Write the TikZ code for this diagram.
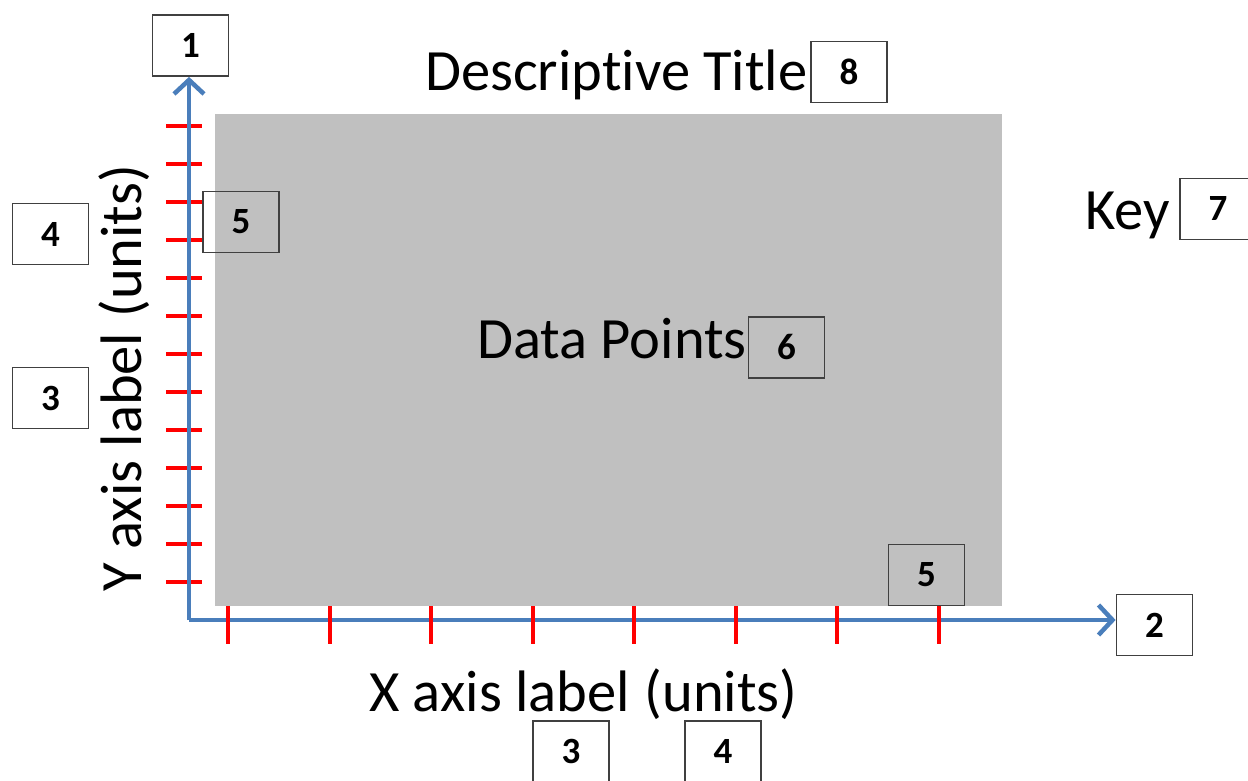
\documentclass[tikz,border=0pt]{standalone}
\usepackage{fontspec}
\setmainfont{Carlito}[Ligatures=NoCommon]
\usetikzlibrary{arrows.meta}
\definecolor{axisblue}{RGB}{74,126,187}
\definecolor{plotgray}{RGB}{192,192,192}
\definecolor{boxline}{RGB}{64,64,64}
\tikzset{
  numbox/.style={draw=boxline, line width=1.8pt, minimum width=76pt, minimum height=61pt, inner sep=0pt,
    font=\fontsize{37}{39}\selectfont\bfseries},
  bigtext/.style={inner sep=0pt, font=\fontsize{58.5}{61}\selectfont},
  axisline/.style={draw=axisblue, line width=4.5pt, line join=round,
    -{Straight Barb[length=14pt,width=30pt,line width=4.5pt]}},
  tickmark/.style={draw=red, line width=4pt}
}
\begin{document}
\begin{tikzpicture}[x=1pt,y=-1pt]
\useasboundingbox (0,0) rectangle (1248,781);
\clip (0,0) rectangle (1248,781);
\fill[white] (0,0) rectangle (1248,781);
% plot area
\fill[plotgray] (215,114) rectangle (1002,606);
% boxes
\node[numbox] (b1) at (190.5,45.5) {1};
\node[numbox] (b2) at (1154.5,625) {2};
\node[numbox] (b3l) at (50.5,398) {3};
\node[numbox] (b4l) at (50.5,234) {4};
\node[numbox] (b3b) at (571,751.5) {3};
\node[numbox] (b4b) at (723,751.5) {4};
\node[numbox] (b5a) at (241,222) {5};
\node[numbox] (b5b) at (926.5,575) {5};
\node[numbox] (b6) at (786.5,347.5) {6};
\node[numbox] (b7) at (1218,209) {7};
\node[numbox] (b8) at (849,72) {8};
% texts
\node[bigtext, anchor=base west] (title) at (425,91) {Descriptive Title};
\node[bigtext, anchor=base east] (key) at (1170,229) {Key};
\node[bigtext, anchor=base west] (data) at (477,358) {Data Points};
\node[bigtext, anchor=base] (xlab) at (583.5,711) {X axis label\hspace{15pt}(units)};
\node[bigtext, anchor=base, rotate=90] (ylab) at (141,378) {Y axis label\hspace{15pt}(units)};
% axes
\coordinate (origin) at (189,620);
\foreach \yy in {126,164,...,582} \draw[tickmark] (166,\yy) -- (202,\yy);
\draw[axisline] (origin) -- (origin -| b2.west);
\draw[axisline] (origin) -- (origin |- b1.south);
\foreach \xx in {228,329.5,431,532.5,634,735.5,837,938.5} \draw[tickmark] (\xx,606) -- (\xx,644);
\end{tikzpicture}
\end{document}
